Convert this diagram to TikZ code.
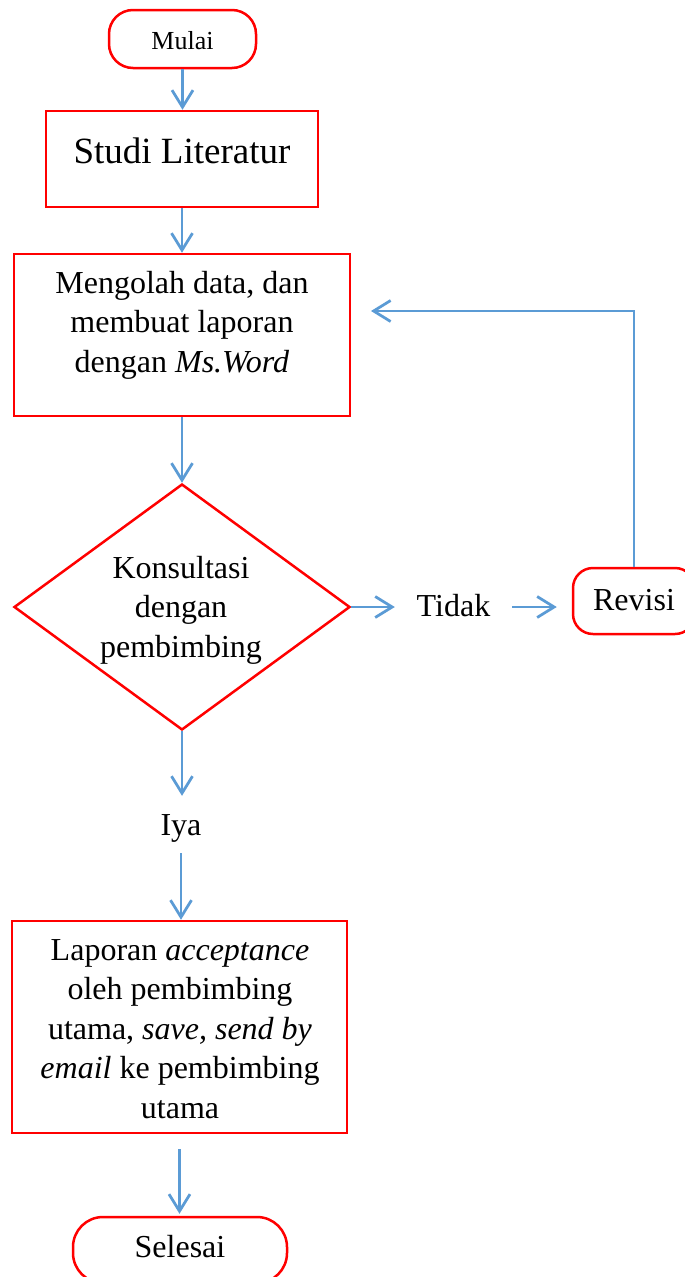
\documentclass[tikz,border=0pt]{standalone}
\usepackage{fontspec}
\setmainfont{Liberation Serif}
\usetikzlibrary{arrows.meta,shapes.geometric}
\definecolor{flowred}{RGB}{255,0,0}
\definecolor{flowblue}{RGB}{91,155,213}
% fixed-height strut so a text block can be placed by its first baseline
\newcommand{\lnstrut}{\rule{0pt}{30pt}}

\begin{document}
\begin{tikzpicture}[x=1pt,y=-1pt,
  body/.style={font=\fontsize{32}{39.5}\selectfont},
  box/.style={draw=flowred, line width=2.5pt, fill=white, inner sep=0pt},
  term/.style={box, rounded corners=#1},
  txt/.style={body, align=center, inner sep=0pt, anchor=north},
  lbl/.style={body, inner sep=0pt, anchor=base},
  arr/.style={draw=flowblue, line width=2.75pt, -{Straight Barb[length=17pt,width=21pt]}}
]
\fill[white] (0,0) rectangle (685,1277);
\useasboundingbox (0,0) rectangle (685,1277);
\clip (0,0) rectangle (685,1277);

% boxes
\node[term=24pt, minimum width=147pt, minimum height=58pt, text height=25pt, text depth=5pt,
      font=\fontsize{26}{30}\selectfont] (mulai) at (182.5,39) {Mulai};
\node[box, minimum width=272pt, minimum height=96pt, text height=26pt, text depth=18pt,
      font=\fontsize{37}{44}\selectfont] (studi) at (182,159) {Studi Literatur};
\node[box, minimum width=336pt, minimum height=162pt] (olah) at (182,335) {};
\node[txt] (olahtxt) at (182,263)
  {\lnstrut Mengolah data, dan\\membuat laporan\\dengan \textit{Ms.Word}};
\node[draw=flowred, line width=2.5pt, fill=white, diamond, inner sep=0pt,
      minimum width=336pt, minimum height=246pt] (kons) at (182,607) {};
\node[txt] (konstxt) at (181,548) {\lnstrut Konsultasi\\dengan\\pembimbing};
\node[lbl, minimum width=117pt] (tidak) at (453.5,616) {Tidak};
\node[term=20pt, body, minimum width=122pt, minimum height=66pt, text height=24pt, text depth=6pt]
  (revisi) at (634,601) {Revisi};
\coordinate (back) at (371,311);
\node[lbl, text height=39pt, text depth=18pt] (iya) at (181,835) {Iya};
\node[box, minimum width=335pt, minimum height=212pt] (lap) at (179.5,1027) {};
\node[txt] (laptxt) at (180,930)
  {\lnstrut Laporan \textit{acceptance}\\oleh pembimbing\\utama, \textit{save, send by}\\\textit{email} ke pembimbing\\utama};
\node[term=30pt, body, minimum width=214pt, minimum height=66pt, text height=22pt, text depth=8pt]
  (selesai) at (180,1250) {Selesai};

% connectors
\draw[arr] (mulai.south) -- (mulai.south |- studi.north);
\draw[arr] (studi.south) -- (studi.south |- olah.north);
\draw[arr] (olah.south) -- (kons.north);
\draw[arr] (kons.east) -- (kons.east -| tidak.west);
\draw[arr, shorten >=15pt] (kons.east -| tidak.east) -- (kons.east -| revisi.west);
\draw[arr] (revisi.north) |- (back);
\draw[arr] (kons.south) -- (kons.south |- iya.north);
\draw[arr] (iya.south) -- (iya.south |- lap.north);
\draw[arr, shorten <=15pt, shorten >=2pt] (lap.south) -- (lap.south |- selesai.north);
\end{tikzpicture}
\end{document}
